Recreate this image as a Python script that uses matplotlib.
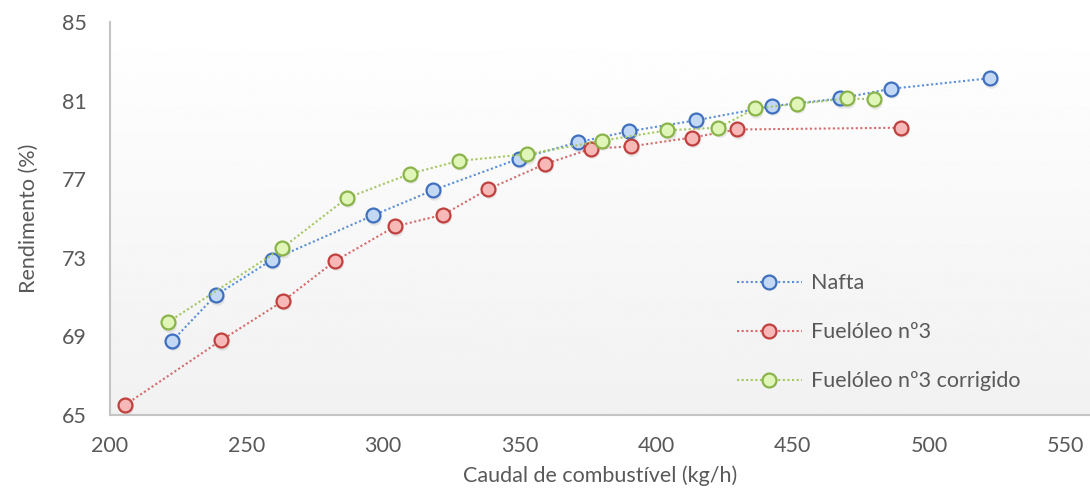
import numpy as np
import matplotlib
matplotlib.use("Agg")
import matplotlib.pyplot as plt

plt.rcParams['font.family'] = ['Lato', 'DejaVu Sans']

# caudal (kg/h) e rendimento (%) de cada ensaio
nafta_x = [222.8, 238.7, 259.3, 296.4, 318.4, 349.7, 371.4, 390.2, 414.8, 442.5, 467.5, 486.0, 522.4]
nafta_y = [68.77, 71.09, 72.89, 75.16, 76.44, 78.04, 78.88, 79.44, 80.00, 80.72, 81.11, 81.60, 82.14]

fuel_x = [205.5, 240.7, 263.4, 282.5, 304.5, 322.0, 338.6, 359.3, 376.3, 390.9, 413.2, 429.8, 489.8]
fuel_y = [65.51, 68.80, 70.80, 72.84, 74.60, 75.19, 76.50, 77.77, 78.55, 78.67, 79.12, 79.53, 79.62]

corr_x = [221.2, 262.9, 286.8, 310.0, 327.7, 352.7, 380.3, 404.2, 422.9, 436.3, 451.5, 470.0, 479.8]
corr_y = [69.72, 73.48, 76.04, 77.28, 77.93, 78.27, 78.96, 79.49, 79.62, 80.60, 80.83, 81.11, 81.07]

labels = ['Nafta', 'Fuelóleo nº3', 'Fuelóleo nº3 corrigido']
x_ticks = [200, 250, 300, 350, 400, 450, 500, 550]
y_ticks = [65, 69, 73, 77, 81, 85]

# (linha, contorno do marcador, preenchimento)
colors = [('#5b8fd6', '#3f6fbf', '#c3d8f5'),
          ('#d66b6b', '#c0403d', '#f7b8b8'),
          ('#a4c763', '#8ab34a', '#e0f5b8')]

txt = '#595959'
fs = 15.5

fig = plt.figure(figsize=(10.9, 4.88), dpi=100)
ax = fig.add_axes([110/1090, 1 - 415/488, 980/1090, 393/488])

# fundo em degradê (branco -> cinza claro)
grad = np.linspace(1.0, 0.945, 256).reshape(-1, 1)
ax.imshow(grad, extent=[0, 1, 0, 1], transform=ax.transAxes, cmap='gray',
          vmin=0, vmax=1, aspect='auto', zorder=0)

series = [(nafta_x, nafta_y), (fuel_x, fuel_y), (corr_x, corr_y)]
for (xs, ys), lab, (lc, ec, fc) in zip(series, labels, colors):
    # sombra discreta dos marcadores
    ax.plot(np.array(xs) + 0.4, np.array(ys) - 0.12, 'o', ms=10.5, color='#000000',
            alpha=0.08, mec='none', zorder=2)
    ax.plot(xs, ys, linestyle=(0, (1, 1.2)), lw=1.5, color=lc, marker='o', ms=10,
            mfc=fc, mec=ec, mew=1.6, label=lab, zorder=3)

ax.set_xlim(200, 559)
ax.set_ylim(65, 85)
ax.set_xticks(x_ticks)
ax.set_yticks(y_ticks)
ax.tick_params(length=0, labelsize=fs, colors=txt)
ax.tick_params(axis='x', pad=15)
ax.tick_params(axis='y', pad=17)
for s in ['top', 'right']:
    ax.spines[s].set_visible(False)
for s in ['left', 'bottom']:
    ax.spines[s].set_color('#c4c4c4')
    ax.spines[s].set_linewidth(1.5)

ax.set_xlabel('Caudal de combustível (kg/h)', fontsize=fs, color=txt, labelpad=7)
ax.set_ylabel('Rendimento (%)', fontsize=fs, color=txt, labelpad=16)

leg = ax.legend(loc='upper left', bbox_to_anchor=(0.62, 0.41), frameon=False,
                fontsize=fs, handlelength=3.0, labelspacing=1.35, handletextpad=0.45)
for t in leg.get_texts():
    t.set_color(txt)

fig.savefig('out.png', dpi=100)
